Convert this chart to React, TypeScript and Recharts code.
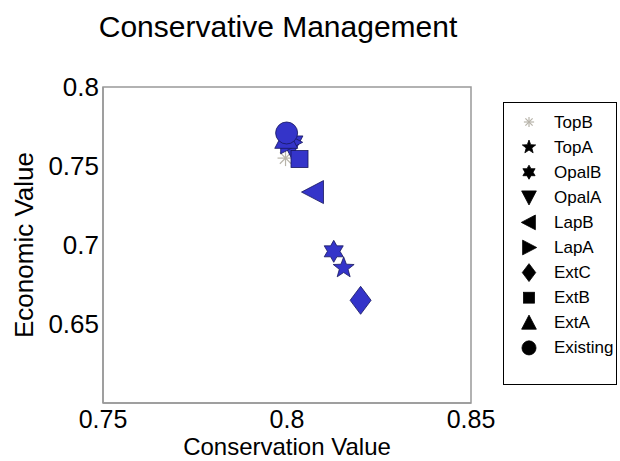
import { ScatterChart, Scatter, XAxis, YAxis, ReferenceArea, Legend, Label } from 'recharts';

const seriesNames = ['TopB', 'TopA', 'OpalB', 'OpalA', 'LapB', 'LapA', 'ExtC', 'ExtB', 'ExtA', 'Existing'];
const markerKinds = ['asterisk', 'star5', 'star6', 'triDown', 'triLeft', 'triRight', 'diamond', 'square', 'triUp', 'circle'];
const conservationValues = [0.7996, 0.8154, 0.8127, 0.8012, 0.8072, 0.801, 0.82, 0.8034, 0.7998, 0.7999];
const economicValues = [0.755, 0.6855, 0.696, 0.7627, 0.7335, 0.765, 0.665, 0.7544, 0.7675, 0.7709];
const xTicks = [0.75, 0.8, 0.85];
const yTicks = [0.65, 0.7, 0.75, 0.8];

const FILL = '#3434c9';
const EDGE = '#17175e';
const FONT = '"Liberation Sans", Arial, sans-serif';

function starPoints(cx: number, cy: number, n: number, outer: number, inner: number) {
  const pts: string[] = [];
  for (let i = 0; i < n * 2; i++) {
    const r = i % 2 === 0 ? outer : inner;
    const a = -Math.PI / 2 + (i * Math.PI) / n;
    pts.push(`${cx + r * Math.cos(a)},${cy + r * Math.sin(a)}`);
  }
  return pts.join(' ');
}

function Marker({ kind, cx, cy, s = 1, fill = FILL, edge = EDGE }: any) {
  if (cx == null || cy == null) return null;
  const common = { fill, stroke: edge, strokeWidth: 0.8 };
  switch (kind) {
    case 'circle':
      return <circle cx={cx} cy={cy} r={11 * s} {...common} />;
    case 'square':
      return <rect x={cx - 8.5 * s} y={cy - 8.5 * s} width={17 * s} height={17 * s} {...common} />;
    case 'diamond':
      return <polygon points={`${cx},${cy - 14 * s} ${cx + 10.5 * s},${cy} ${cx},${cy + 14 * s} ${cx - 10.5 * s},${cy}`} {...common} />;
    case 'triUp':
      return <polygon points={`${cx},${cy - 12 * s} ${cx + 11.5 * s},${cy + 10 * s} ${cx - 11.5 * s},${cy + 10 * s}`} {...common} />;
    case 'triDown':
      return <polygon points={`${cx},${cy + 12 * s} ${cx + 11.5 * s},${cy - 10 * s} ${cx - 11.5 * s},${cy - 10 * s}`} {...common} />;
    case 'triLeft':
      return <polygon points={`${cx - 12 * s},${cy} ${cx + 10 * s},${cy - 11.5 * s} ${cx + 10 * s},${cy + 11.5 * s}`} {...common} />;
    case 'triRight':
      return <polygon points={`${cx + 12 * s},${cy} ${cx - 10 * s},${cy - 11.5 * s} ${cx - 10 * s},${cy + 11.5 * s}`} {...common} />;
    case 'star5':
      return <polygon points={starPoints(cx, cy, 5, 11 * s, 4.6 * s)} {...common} />;
    case 'star6':
      return <polygon points={starPoints(cx, cy, 6, 11 * s, 6.3 * s)} {...common} />;
    case 'asterisk': {
      const r = 8 * s;
      const lines = [0, 45, 90, 135].map((d) => {
        const a = (d * Math.PI) / 180;
        return (
          <line key={d} x1={cx - r * Math.cos(a)} y1={cy - r * Math.sin(a)} x2={cx + r * Math.cos(a)} y2={cy + r * Math.sin(a)} stroke="#b8b4aa" strokeWidth={1.2} />
        );
      });
      return <g>{lines}</g>;
    }
    default:
      return null;
  }
}

function LegendBox() {
  return (
    <svg width={114} height={283} style={{ display: 'block' }}>
      <rect x={0.5} y={0.5} width={113} height={282} fill="#fff" stroke="#000" strokeWidth={1} />
      {seriesNames.map((name, i) => {
        const y = 20 + i * 25.1;
        return (
          <g key={name}>
            <Marker kind={markerKinds[i]} cx={26} cy={y} s={0.64} fill="#000" edge="#000" />
            <text x={51} y={y} dominantBaseline="central" fontFamily={FONT} fontSize={17} fill="#000">
              {name}
            </text>
          </g>
        );
      })}
    </svg>
  );
}

export default function App() {
  const tickStyle = { fontFamily: FONT, fontSize: 26, fill: '#000' };
  const xTickStyle = { fontFamily: FONT, fontSize: 25, fill: '#000' };
  return (
    <div style={{ position: 'absolute', left: 0, top: 0, width: 620, height: 461, background: '#fff' }}>
      <svg width={620} height={60} style={{ position: 'absolute', left: 0, top: 0 }}>
        <text x={278} y={37} textAnchor="middle" fontFamily={FONT} fontSize={30} fill="#000">
          Conservative Management
        </text>
      </svg>
      <ScatterChart width={620} height={461} margin={{ top: 87, right: 149, bottom: 0, left: 0 }}>
        <XAxis
          type="number"
          dataKey="x"
          domain={[0.75, 0.85]}
          ticks={xTicks}
          tickFormatter={(v: number) => String(v)}
          height={58}
          tickLine={false}
          tickSize={6}
          tickMargin={1}
          axisLine={{ stroke: '#999', strokeWidth: 1.5 }}
          tick={xTickStyle}
          allowDataOverflow
        >
          <Label value="Conservation Value" position="insideBottom" offset={6} style={{ fontFamily: FONT, fontSize: 24, fill: '#000' }} />
        </XAxis>
        <YAxis
          type="number"
          dataKey="y"
          domain={[0.6, 0.8]}
          ticks={yTicks}
          tickFormatter={(v: number) => String(v)}
          width={103}
          tickLine={false}
          tickSize={4}
          tickMargin={0}
          axisLine={{ stroke: '#999', strokeWidth: 1.5 }}
          tick={tickStyle}
          allowDataOverflow
        >
          <Label value="Economic Value" position="insideLeft" angle={-90} offset={24} textAnchor="middle" style={{ fontFamily: FONT, fontSize: 26, fill: '#000' }} />
        </YAxis>
        <ReferenceArea x1={0.75} x2={0.85} y1={0.6} y2={0.8} fill="none" stroke="#999" strokeWidth={1.5} ifOverflow="visible" />
        {seriesNames.map((name, i) => (
          <Scatter
            key={name}
            name={name}
            data={[{ x: conservationValues[i], y: economicValues[i] }]}
            isAnimationActive={false}
            shape={(p: any) => <Marker kind={markerKinds[i]} cx={p.cx} cy={p.cy} />}
          />
        ))}
        <Legend
          layout="vertical"
          align="center"
          verticalAlign="middle"
          wrapperStyle={{ position: 'absolute', left: 503, top: 102, width: 114, height: 283 }}
          content={() => <LegendBox />}
        />
      </ScatterChart>
    </div>
  );
}
